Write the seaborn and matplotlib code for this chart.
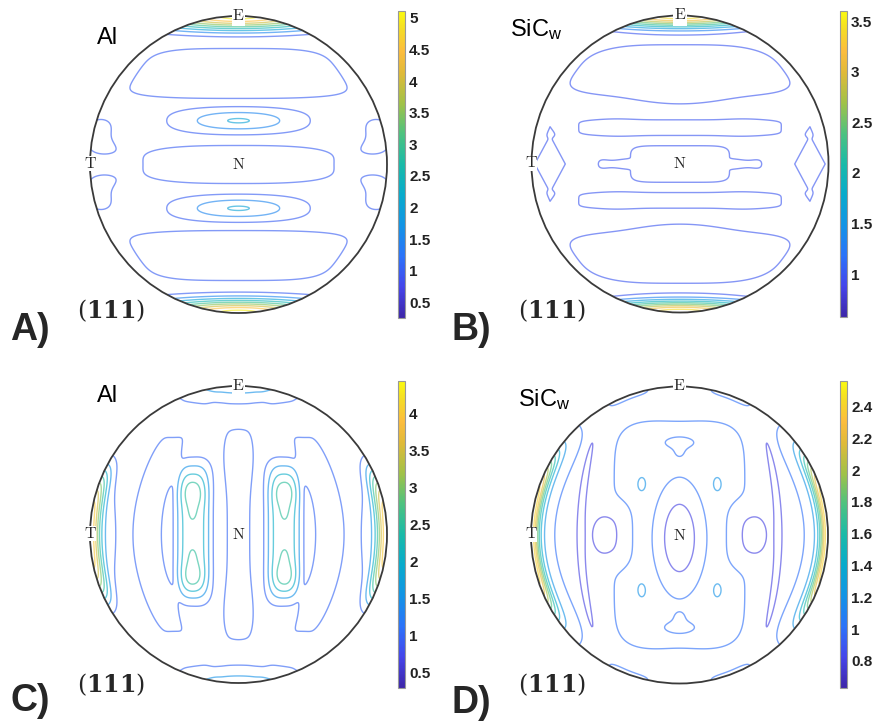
import numpy as np
import matplotlib
matplotlib.use("Agg")
import matplotlib.pyplot as plt
from matplotlib.patches import Circle, Rectangle
from matplotlib.colors import Normalize, LinearSegmentedColormap
from matplotlib.cm import ScalarMappable
import seaborn as sns

sns.set_theme(style="white")
plt.rcParams['font.family'] = ['Liberation Sans', 'DejaVu Sans']

W, H = 877, 724

# ---------------- data ----------------
panel_letters = ["A)", "B)", "C)", "D)"]
panel_material = ["Al", "SiC_w", "Al", "SiC_w"]
plane_label = r"$(\mathbf{111})$"
pole_labels = ["E", "T", "N"]

# parula-like colour nodes
parula_pos = [0.0, 0.10, 0.20, 0.30, 0.40, 0.50, 0.60, 0.70, 0.80, 0.87, 0.94, 1.0]
parula_rgb = [(0.24, 0.15, 0.66), (0.27, 0.27, 0.92), (0.17, 0.45, 0.98), (0.07, 0.58, 0.90),
              (0.03, 0.67, 0.80), (0.10, 0.73, 0.66), (0.30, 0.76, 0.50), (0.63, 0.76, 0.28),
              (0.88, 0.73, 0.22), (0.99, 0.74, 0.24), (0.96, 0.86, 0.15), (0.98, 0.98, 0.06)]

clim_a = (0.25, 5.11)
clim_b = (0.575, 3.60)
clim_c = (0.29, 4.44)
clim_d = (0.63, 2.56)

levels_a = [1.0, 1.5, 2.0, 2.5, 3.0, 3.5, 4.0, 4.5, 5.0]
levels_b = [1.0, 1.3, 1.6, 1.9, 2.2, 2.5, 2.8, 3.1, 3.4]
levels_c = [1.0, 1.5, 2.0, 2.5, 3.0, 3.5, 4.0]
levels_d = [0.8, 1.0, 1.2, 1.4, 1.6, 1.8, 2.0, 2.2, 2.4]

ticks_a = [0.5, 1, 1.5, 2, 2.5, 3, 3.5, 4, 4.5, 5]
ticks_b = [1, 1.5, 2, 2.5, 3, 3.5]
ticks_c = [0.5, 1, 1.5, 2, 2.5, 3, 3.5, 4]
ticks_d = [0.8, 1.0, 1.2, 1.4, 1.6, 1.8, 2.0, 2.2, 2.4]

# intensity components (multiples of random) on the unit disc:
# centre (x, y), amplitude, size (sx, sy), shape (px, py, warp, kx, ky)
# warp: 0 plain, 1 x scaled by chord, 3 diamond, 4 rim (depth, angle)
base_a = 0.6
a_center = [(0, 1), (0, -1), (0, 0.615), (0, -0.615), (0, 0.295), (0, 0.295), (0, -0.295),
            (0, -0.295), (0, 0), (-0.93, 0.2), (-0.93, -0.2), (0.93, 0.2), (0.93, -0.2)]
a_amp = [4.6, 4.6, 0.75, 0.75, 0.85, 0.6, 0.85, 0.6, 0.7, 0.5, 0.5, 0.5, 0.5]
a_size = [(0.65, 0.09), (0.65, 0.09), (0.97, 0.178), (0.97, 0.178), (0.3, 0.06), (0.58, 0.11),
          (0.3, 0.06), (0.58, 0.11), (0.78, 0.145), (0.14, 0.146), (0.14, 0.146), (0.14, 0.146),
          (0.14, 0.146)]
a_shape = [(2, 2, 0, 0, 0), (2, 2, 0, 0, 0), (4, 6, 1, 0, 0), (4, 6, 1, 0, 0), (2, 2, 0, 0, 0),
           (3, 3, 0, 0, 0), (2, 2, 0, 0, 0), (3, 3, 0, 0, 0), (3, 4, 0, 0, 0), (2, 4, 0, 0, 0),
           (2, 4, 0, 0, 0), (2, 4, 0, 0, 0), (2, 4, 0, 0, 0)]

base_b = 0.65
b_center = [(0, 1), (0, -1), (0, 0.63), (0, -0.63), (0, 0.45), (0, -0.45),
            (0, 0.245), (0, -0.245), (-0.43, 0.25), (0.43, 0.25), (-0.43, -0.25), (0.43, -0.25),
            (0, 0), (-0.43, 0), (0.43, 0), (-0.53, 0), (0.53, 0), (-0.875, 0), (0.875, 0)]
b_amp = [2.95, 2.95, 0.5, 0.5, 0.25, 0.25, 0.45, 0.45, 0.14, 0.14, 0.14, 0.14,
         0.45, 0.38, 0.38, 0.35, 0.35, 0.45, 0.45]
b_size = [(0.65, 0.082), (0.65, 0.082), (1.16, 0.22), (1.16, 0.22), (0.3, 0.08), (0.3, 0.08),
          (0.85, 0.065), (0.85, 0.065), (0.14, 0.08), (0.14, 0.08), (0.14, 0.08), (0.14, 0.08),
          (0.42, 0.155), (0.1, 0.03), (0.1, 0.03), (0.05, 0.05), (0.05, 0.05), (0.145, 0.27),
          (0.145, 0.27)]
b_shape = [(2, 2, 0, 0, 0), (2, 2, 0, 0, 0), (4, 4, 1, 0, 0), (4, 4, 1, 0, 0), (2, 2, 0, 0, 0),
           (2, 2, 0, 0, 0), (6, 6, 0, 0, 0), (6, 6, 0, 0, 0), (2, 2, 0, 0, 0), (2, 2, 0, 0, 0),
           (2, 2, 0, 0, 0), (2, 2, 0, 0, 0), (6, 6, 0, 0, 0), (4, 4, 0, 0, 0), (4, 4, 0, 0, 0),
           (2, 2, 0, 0, 0), (2, 2, 0, 0, 0), (4, 4, 3, 0, 0), (4, 4, 3, 0, 0)]

base_c = 0.55
c_center = [(-1, 0), (1, 0), (-1, 0), (1, 0), (-0.61, 0), (0.61, 0), (0, 0), (0, 0.55), (0, -0.55),
            (-0.305, 0.02), (0.305, 0.02), (-0.31, 0.285), (-0.31, -0.285), (0.31, 0.285),
            (0.31, -0.285), (-0.31, 0.15), (-0.31, -0.15), (0.31, 0.15), (0.31, -0.15),
            (0, 1), (0, -1)]
c_amp = [2.9, 2.9, 0.95, 0.95, 0.6, 0.6, 0.55, 0.42, 0.42, 1.75, 1.75, 0.6, 0.6, 0.6, 0.6,
         0.25, 0.25, 0.25, 0.25, 1.1, 1.1]
c_size = [(0.065, 0.45), (0.065, 0.45), (0.2, 0.44), (0.2, 0.44), (0.11, 0.8), (0.11, 0.8),
          (0.098, 0.72), (0.16, 0.2), (0.16, 0.2), (0.122, 0.475), (0.122, 0.475),
          (0.072, 0.1), (0.072, 0.1), (0.072, 0.1), (0.072, 0.1),
          (0.035, 0.08), (0.035, 0.08), (0.035, 0.08), (0.035, 0.08), (0.6, 0.12), (0.6, 0.12)]
c_shape = [(2, 4, 4, 0, 0), (2, 4, 4, 0, 0), (2, 2, 4, 0, 0), (2, 2, 4, 0, 0),
           (6, 6, 0, 0.4, 0), (6, 6, 0, -0.4, 0), (6, 6, 0, 0, 0), (2, 2, 0, 0, 0), (2, 2, 0, 0, 0),
           (3, 6, 0, 0, 0), (3, 6, 0, 0, 0)] + [(2, 2, 0, 0, 0)] * 10

base_d = 0.9
d_center = [(0, 0), (-0.4, 0), (0.4, 0), (0, -0.02), (-0.255, 0.34), (0.255, 0.34),
            (-0.255, -0.37), (0.255, -0.37), (-0.52, 0), (0.52, 0), (0, 0.62), (0, 0.56),
            (0, -0.62), (0, -0.56), (-1, 0), (1, 0), (-1, 0), (1, 0), (-0.665, 0), (0.665, 0),
            (-0.34, 0.94), (0.34, 0.94), (-0.34, -0.94), (0.34, -0.94)]
d_amp = [0.25, -0.17, -0.17, -0.51, 0.13, 0.13, 0.13, 0.13, -0.2, -0.2, -0.2, -0.12, -0.2, -0.12,
         1.25, 1.25, 0.4, 0.4, -0.2, -0.2, 0.12, 0.12, 0.12, 0.12]
d_size = [(0.45, 0.78), (0.1, 0.22), (0.1, 0.22), (0.163, 0.369), (0.045, 0.075), (0.045, 0.075),
          (0.045, 0.075), (0.045, 0.075), (0.084, 0.15), (0.084, 0.15), (0.11, 0.04),
          (0.05, 0.05), (0.11, 0.04), (0.05, 0.05), (0.05, 0.55), (0.05, 0.55), (0.136, 0.76),
          (0.136, 0.76), (0.03, 0.75), (0.03, 0.75), (0.05, 0.2), (0.05, 0.2), (0.05, 0.2),
          (0.05, 0.2)]
d_shape = ([(4, 8, 0, 0, 0), (2, 4, 0, 0, 0), (2, 4, 0, 0, 0)] + [(2, 2, 0, 0, 0)] * 11 +
           [(2, 4.5, 4, 0, 0), (2, 4.5, 4, 0, 0), (2, 4, 4, 0, 0), (2, 4, 4, 0, 0),
            (2, 6, 0, 0.2, 0), (2, 6, 0, -0.2, 0)] + [(2, 4, 4, 0, 0)] * 4)

# figure geometry in pixels: circle centre (x, y), radius; colourbar box (left, top, w, h)
pole_centers = [(238.5, 164.5), (680.0, 164.0), (238.5, 534.5), (679.5, 535.0)]
pole_radius = 148.5
cbar_boxes = [(398, 11, 7, 307), (840, 11, 7, 306), (398, 381, 7, 307), (840, 381, 7, 307)]


def density(X, Y, base, centers, amps, sizes, shapes):
    Z = np.full_like(X, base)
    chord_x = np.sqrt(np.clip(1 - Y ** 2, 1e-3, None))
    R = np.hypot(X, Y)
    TH = np.arctan2(Y, X)
    for (x0, y0), a, (sx, sy), (px, py, warp, kx, ky) in zip(centers, amps, sizes, shapes):
        if warp == 4:
            dx = 1.0 - R
            dy = np.angle(np.exp(1j * (TH - np.arctan2(y0, x0))))
        else:
            xx = X / chord_x if warp == 1 else X
            dx = xx - x0 - kx * (Y - y0) ** 2
            dy = Y - y0 - ky * (xx - x0) ** 2
        if warp == 3:
            r = np.abs(dx) / sx + np.abs(dy) / sy
            Z = Z + a * np.exp(-r ** px)
        else:
            Z = Z + a * np.exp(-(np.abs(dx) / sx) ** px - (np.abs(dy) / sy) ** py)
    Z[X ** 2 + Y ** 2 > 1.0] = np.nan
    return Z


cmap = LinearSegmentedColormap.from_list("parula_like", list(zip(parula_pos, parula_rgb)))

fig = plt.figure(figsize=(W / 100, H / 100), dpi=100)
fig.patch.set_facecolor("white")


def px_axes(l, t, w, h):
    return fig.add_axes([l / W, 1 - (t + h) / H, w / W, h / H])


g = np.linspace(-1, 1, 801)
X, Y = np.meshgrid(g, g)

panels = [
    (base_a, a_center, a_amp, a_size, a_shape, levels_a, clim_a, ticks_a),
    (base_b, b_center, b_amp, b_size, b_shape, levels_b, clim_b, ticks_b),
    (base_c, c_center, c_amp, c_size, c_shape, levels_c, clim_c, ticks_c),
    (base_d, d_center, d_amp, d_size, d_shape, levels_d, clim_d, ticks_d),
]

lim = 1.04
for i, (base, cen, amp, size, shape, levels, clim, ticks) in enumerate(panels):
    cx, cy = pole_centers[i]
    half = pole_radius * lim
    ax = px_axes(cx - half, cy - half, 2 * half, 2 * half)
    Z = density(X, Y, base, cen, amp, size, shape)
    norm = Normalize(vmin=clim[0], vmax=clim[1])
    ax.contour(X, Y, Z, levels=levels, cmap=cmap, norm=norm, linewidths=1.0, alpha=0.62)
    ax.add_patch(Circle((0, 0), 1.0, fill=False, ec="#3a3a3a", lw=1.3, zorder=3))
    # white label notches, as in the original pole figures
    ax.add_patch(Rectangle((-0.045, 0.93), 0.09, 0.1, fc="white", ec="none", zorder=4))
    ax.add_patch(Rectangle((-1.04, -0.045), 0.08, 0.1, fc="white", ec="none", zorder=4))
    ax.set_xlim(-lim, lim)
    ax.set_ylim(-lim, lim)
    ax.set_aspect("equal")
    ax.axis("off")
    ax.text(0, 1.005, r"$\mathrm{%s}$" % pole_labels[0], math_fontfamily="cm", fontsize=11.5,
            ha="center", va="center", zorder=5)
    ax.text(-1.0, 0.01, r"$\mathrm{%s}$" % pole_labels[1], math_fontfamily="cm", fontsize=11.5,
            ha="center", va="center", zorder=5)
    ax.text(0, 0, r"$\mathrm{%s}$" % pole_labels[2], math_fontfamily="cm", fontsize=11.5,
            ha="center", va="center", zorder=5)

    l, t, w, h = cbar_boxes[i]
    cax = px_axes(l, t, w, h)
    cb = fig.colorbar(ScalarMappable(norm=norm, cmap=cmap), cax=cax, ticks=ticks)
    cb.outline.set_edgecolor("#999999")
    cb.outline.set_linewidth(0.8)
    cax.tick_params(axis="y", direction="in", length=3, width=0.8, colors="#222222",
                    labelsize=11, pad=3)
    cax.set_yticklabels([f"{v:g}" for v in ticks], fontweight="bold", color="#222222")


def ftext(x, y, s, **kw):
    fig.text(x / W, 1 - y / H, s, **kw)


mat_pos = [(97, 27), (510, 17), (97, 385), (518, 387)]
for i, (x, y) in enumerate(mat_pos):
    s = "Al" if panel_material[i] == "Al" else r"$\mathregular{SiC_w}$"
    ftext(x, y, s, fontsize=17, ha="left", va="top", color="black")

plane_pos = [(77, 297), (518, 297), (77, 671), (518, 671)]
for (x, y) in plane_pos:
    ftext(x, y, plane_label, math_fontfamily="dejavuserif", fontsize=17, ha="left", va="top")

letter_pos = [(10, 330), (452, 330), (10, 701), (452, 703)]
for s, (x, y) in zip(panel_letters, letter_pos):
    ftext(x, y, s, fontsize=27, fontweight="bold", ha="left", va="center")

fig.savefig("out.png", dpi=100, facecolor="white")
